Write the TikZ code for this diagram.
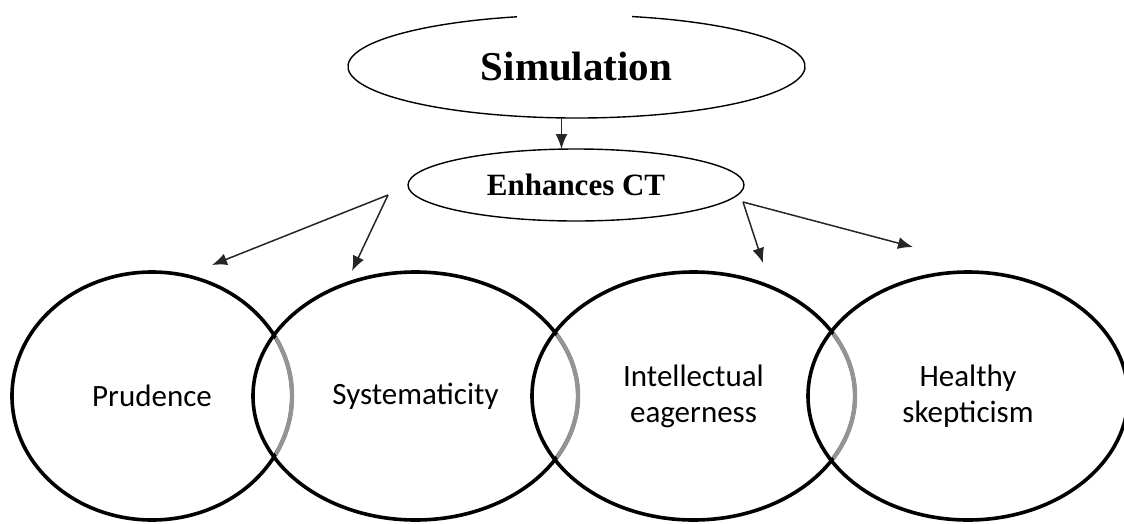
\documentclass[tikz,border=0pt]{standalone}
\usepackage{fontspec}
\setmainfont{Liberation Serif}
\newfontfamily\calfont{Carlito}
\usetikzlibrary{shapes.geometric,arrows.meta,calc}
\begin{document}
\begin{tikzpicture}[x=1pt,y=-1pt,
  oval/.style={ellipse, inner sep=0pt, outer sep=0pt},
  ring/.style={ellipse, draw=black, line width=3.6pt, inner sep=0pt, outer sep=0pt,
    minimum height=248pt, align=center, font=\calfont\fontsize{31}{36}\selectfont},
  arr/.style={-{Latex[length=15pt,width=12pt]}, line width=1.5pt, draw=black!85},
  lens/.style={draw=black!42, line width=4.4pt}]
\useasboundingbox (0,0) rectangle (1124,523);

% top ellipse (its outline has a gap at the top)
\node[oval, minimum width=457pt, minimum height=103pt,
  font=\bfseries\fontsize{41}{48}\selectfont] (sim) at (576.5,66.5) {Simulation};
\draw[line width=1.4pt] ($(sim.center)+(284.1:228.5 and 51.5)$)
  arc[start angle=284.1, end angle=614.9, x radius=228.5, y radius=51.5];

\node[oval, draw, line width=1.4pt, minimum width=336pt, minimum height=72pt,
  font=\bfseries\fontsize{31}{36}\selectfont] (ect) at (576,185) {Enhances CT};

\draw[arr] ([xshift=-15pt]sim.south) -- ([xshift=-15pt]sim.south |- ect.north);

% four overlapping circles
\node[ring, minimum width=280pt] (c1) at (152,396) {Prudence};
\node[ring, minimum width=325pt] (c2) at (415.5,396) {Systematicity};
\node[ring, minimum width=323pt] (c3) at (693.5,396) {Intellectual\\eagerness};
\node[ring, minimum width=320pt] (c4) at (968,396) {Healthy\\skepticism};

% grey arcs inside the overlaps
\begin{scope}
  \clip (c2.center) ellipse [x radius=159.5, y radius=121];
  \draw[lens] (c1.center) ellipse [x radius=140, y radius=124];
\end{scope}
\begin{scope}
  \clip (c3.center) ellipse [x radius=158.5, y radius=121];
  \draw[lens] (c2.center) ellipse [x radius=162.5, y radius=124];
\end{scope}
\begin{scope}
  \clip (c4.center) ellipse [x radius=157, y radius=121];
  \draw[lens] (c3.center) ellipse [x radius=161.5, y radius=124];
\end{scope}

% branching arrows
\coordinate (lb) at (388,195);
\coordinate (rb) at (743,202);
\coordinate (t1) at (212,265);
\coordinate (t2) at (352,271);
\coordinate (t3) at (763,263);
\coordinate (t4) at (913,247);
\draw[arr] (lb) -- (t1);
\draw[arr] (lb) -- (t2);
\draw[arr] (rb) -- (t3);
\draw[arr] (rb) -- (t4);
\end{tikzpicture}
\end{document}
